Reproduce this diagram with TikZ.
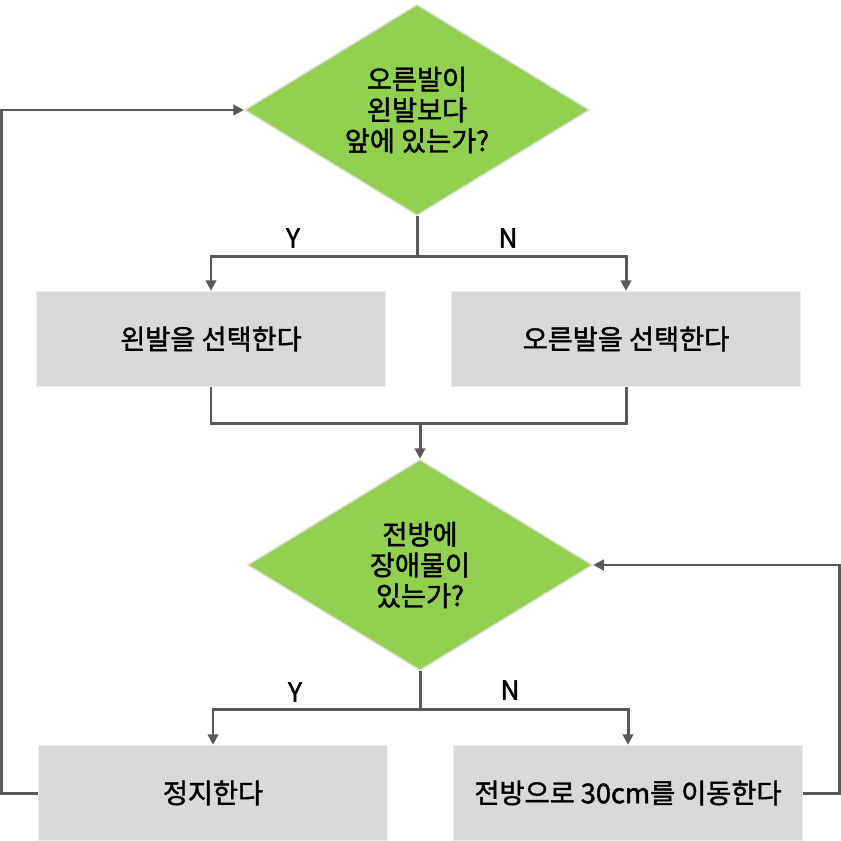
\documentclass[tikz,border=0pt]{standalone}
\usepackage{fontspec}
\setmainfont{Noto Sans CJK KR}[FakeBold=1.6]
\usetikzlibrary{shapes.geometric,arrows.meta}

\definecolor{leaf}{HTML}{92D050}
\definecolor{boxgray}{HTML}{D9D9D9}
\definecolor{wire}{HTML}{595959}

\begin{document}
\begin{tikzpicture}[x=0.02cm,y=-0.02cm,
    every node/.style={font=\fontsize{15.5}{17.5}\selectfont},
    decision/.style={diamond,fill=leaf,draw=black!12,line width=0.8pt,
        inner sep=0pt,aspect=1.64,minimum width=345\u,minimum height=211\u,align=center},
    action/.style={rectangle,fill=boxgray,draw=black!7,line width=0.8pt,
        minimum width=349\u,minimum height=95\u},
    wire/.style={draw=wire,line width=1.7pt},
    flow/.style={wire,-{Triangle[length=6pt,width=6pt]}},
    tag/.style={font=\fontsize{15}{17}\selectfont}]
    \newdimen\u\u=0.02cm
    \useasboundingbox (0,0) rectangle (841,841);

    % 첫번째 판단
    \node[decision] (feet) at (417,110) {오른발이\\왼발보다\\앞에 있는가?};
    \node[action] (leftfoot) at (211,339) {왼발을 선택한다};
    \node[action] (rightfoot) at (626,339) {오른발을 선택한다};

    % 두번째 판단
    \node[decision] (ahead) at (420,565) {전방에\\장애물이\\있는가?};
    \node[action] (stop) at (213,793) {정지한다};
    \node[action] (move) at (628,793) {전방으로 30cm를 이동한다};

    \node[tag] (y1) at (293,238) {Y};
    \node[tag] (n1) at (508,238) {N};
    \node[tag] (y2) at (295,692) {Y};
    \node[tag] (n2) at (510,690) {N};

    \draw[flow] (feet.south) -- ++(0,40) -| (leftfoot.north);
    \draw[flow] (feet.south) -- ++(0,40) -| (rightfoot.north);

    \draw[wire] (leftfoot.south) -- ++(0,36) coordinate (join) -| (rightfoot.south);
    \draw[flow] (ahead.north |- join) -- (ahead.north);

    \draw[flow] (ahead.south) -- ++(0,38) -| (stop.north);
    \draw[flow] (ahead.south) -- ++(0,38) -| (move.north);

    % 되돌아가는 선
    \draw[flow] (stop.west) -- ++(-36,0) |- (feet.west);
    \draw[flow] (move.east) -- ++(36,0) |- (ahead.east);
\end{tikzpicture}
\end{document}
